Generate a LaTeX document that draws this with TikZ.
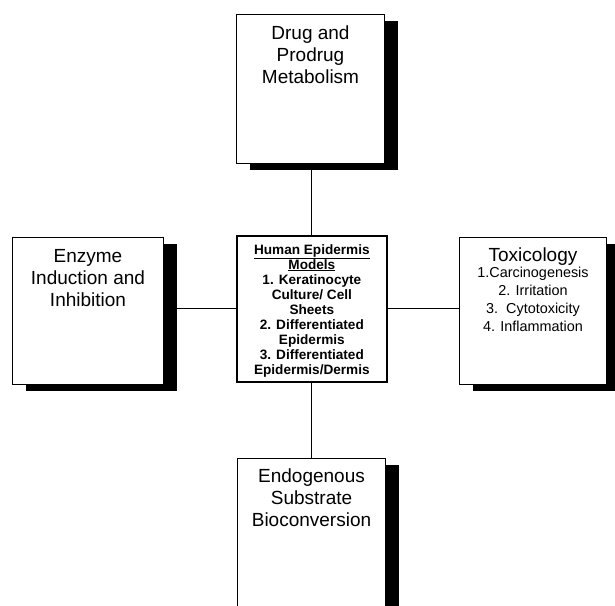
\documentclass[tikz,border=0pt]{standalone}
\usepackage{fontspec}
\setmainfont{Liberation Sans}
\usetikzlibrary{shadows}
\begin{document}
\begin{tikzpicture}[x=1pt,y=-1pt,
  box/.style={draw=black, fill=white, line width=1pt, rectangle, inner sep=0pt, anchor=north west,
    drop shadow={shadow xshift=13pt, shadow yshift=-6.5pt, fill=black, opacity=1}},
  cbox/.style={draw=black, fill=white, line width=1.7pt, rectangle, inner sep=0pt, anchor=north west},
  bigtxt/.style={anchor=north, align=center, inner sep=0pt, font=\fontsize{19}{22}\selectfont},
  smalltxt/.style={anchor=north, align=center, inner sep=0pt, font=\fontsize{14.4}{18}\selectfont},
  ctxt/.style={anchor=north, align=center, inner sep=0pt, font=\bfseries\fontsize{13.6}{15}\selectfont},
  link/.style={draw=black, line width=1.2pt}]
\useasboundingbox (0,0) rectangle (615,605);
\clip (0,0) rectangle (615,605);
% boxes
\node[box, minimum width=148pt, minimum height=149pt] (top) at (236,14) {};
\node[box, minimum width=151pt, minimum height=147pt] (left) at (12,237) {};
\node[box, minimum width=147pt, minimum height=147pt] (right) at (459,237) {};
\node[box, minimum width=148pt, minimum height=160pt] (bottom) at (237,458) {};
\node[cbox, minimum width=150pt, minimum height=146pt] (center) at (236,235) {};
% connectors
\draw[link] (center.north) -- (center.north |- top.south);
\draw[link] (center.south) -- (center.south |- bottom.north);
\draw[link] (center.west) -- ([xshift=13pt]center.west -| left.east);
\draw[link] (center.east) -- (center.east -| right.west);
% texts
\node[bigtxt] (toptext) at ([yshift=-12pt]top.north) {Drug and\\Prodrug\\Metabolism};
\node[bigtxt] (lefttext) at ([yshift=-12pt]left.north) {Enzyme\\Induction and\\Inhibition};
\node[bigtxt] (bottomtext) at ([yshift=-11pt]bottom.north) {Endogenous\\Substrate\\Bioconversion};
\node[bigtxt] (righttitle) at ([yshift=-11pt]right.north) {Toxicology};
\node[smalltxt] (rightlist) at ([yshift=-30pt]right.north) {1.Carcinogenesis\\2. Irritation\\3.\ \ Cytotoxicity\\4. Inflammation};
\node[ctxt] (centertext) at ([yshift=-9pt]center.north) {\underline{Human Epidermis}\\\underline{Models}\\1. Keratinocyte\\Culture/ Cell\\Sheets\\2. Differentiated\\Epidermis\\3. Differentiated\\Epidermis/Dermis};
\end{tikzpicture}
\end{document}
